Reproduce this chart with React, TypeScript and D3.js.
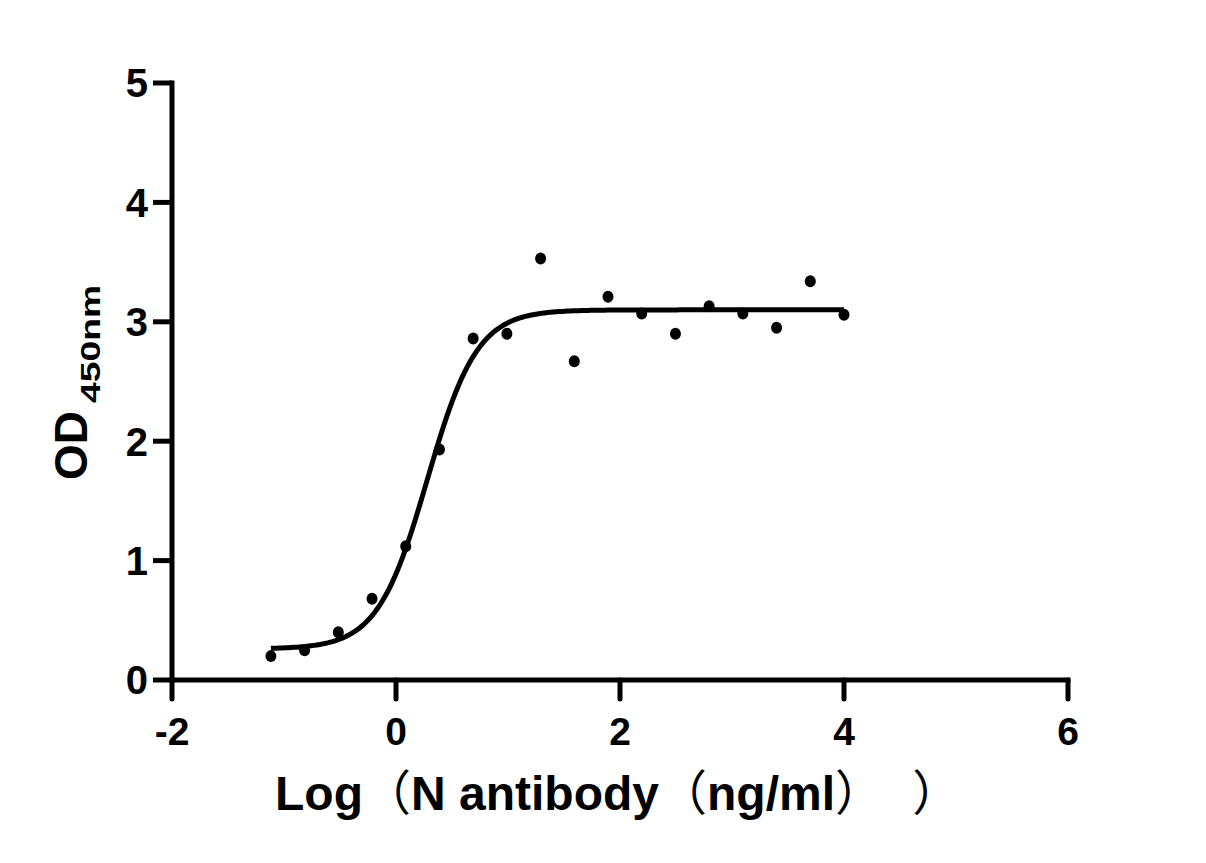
import React from 'react';
import * as d3 from 'd3';

// log10 concentration (ng/ml) and measured OD450
const logConc = [-1.117, -0.816, -0.515, -0.214, 0.087, 0.388, 0.689, 0.99, 1.291, 1.592, 1.893, 2.194, 2.495, 2.796, 3.097, 3.398, 3.699, 4.0];
const odValues = [0.2, 0.25, 0.4, 0.68, 1.12, 1.93, 2.86, 2.9, 3.53, 2.67, 3.21, 3.07, 2.9, 3.13, 3.07, 2.95, 3.34, 3.06];

const xTicks = [-2, 0, 2, 4, 6];
const yTicks = [0, 1, 2, 3, 4, 5];

// 4PL fit
const fitBottom = 0.26;
const fitTop = 3.1;
const fitLogEC50 = 0.28;
const fitHill = 1.95;

const W = 1206;
const H = 863;
const FONT = "'Liberation Sans', Arial, 'Noto Sans CJK SC', sans-serif";

const fourPL = (x: number) => fitBottom + (fitTop - fitBottom) / (1 + Math.pow(10, (fitLogEC50 - x) * fitHill));

export default function App() {
  const x = d3.scaleLinear().domain([-2, 6]).range([172, 1068]);
  const y = d3.scaleLinear().domain([0, 5]).range([680, 83]);

  const xs = d3.range(200).map(i => logConc[0] + (i / 199) * (logConc[logConc.length - 1] - logConc[0]));
  const line = d3.line<number>().x(d => x(d)).y(d => y(fourPL(d)));

  const x0 = x(-2);
  const y0 = y(0);

  return (
    <svg width={W} height={H} style={{ position: 'absolute', left: 0, top: 0, background: '#fff' }} fontFamily={FONT}>
      <rect width={W} height={H} fill="#fff" />
      {/* y axis */}
      <line x1={x0} x2={x0} y1={y(5)} y2={y0} stroke="#000" strokeWidth={5} strokeLinecap="square" />
      {yTicks.map(t => (
        <g key={'y' + t}>
          <line x1={x0 - 19} x2={x0} y1={y(t)} y2={y(t)} stroke="#000" strokeWidth={5} />
          <text x={148} y={y(t)} dy="0.36em" textAnchor="end" fontSize={40} fontWeight="bold">{t}</text>
        </g>
      ))}
      {/* x axis */}
      <line x1={x0} x2={x(6)} y1={y0} y2={y0} stroke="#000" strokeWidth={5} strokeLinecap="square" />
      {xTicks.map(t => (
        <g key={'x' + t}>
          <line x1={x(t)} x2={x(t)} y1={y0} y2={y0 + 19} stroke="#000" strokeWidth={5} strokeLinecap="round" />
          <text x={x(t)} y={745} textAnchor="middle" fontSize={39} fontWeight="bold">{t < 0 ? '-' + Math.abs(t) : t}</text>
        </g>
      ))}
      {/* fitted curve */}
      <path d={line(xs) || ''} fill="none" stroke="#000" strokeWidth={5} />
      {/* points */}
      {logConc.map((c, i) => (
        <ellipse key={i} cx={x(c)} cy={y(odValues[i])} rx={5.5} ry={6} fill="#000" />
      ))}
      {/* axis titles */}
      <text x={275} y={810} fontSize={48} fontWeight="bold">
        Log<tspan fontWeight="normal">（</tspan>N antibody<tspan fontWeight="normal">（</tspan>ng/ml<tspan fontWeight="normal">）</tspan> <tspan fontWeight="normal" dx={16}>）</tspan>
      </text>
      <text transform="translate(87,480) rotate(-90)" fontSize={46} fontWeight="bold">OD</text>
      <text transform="translate(100,403) rotate(-90)" fontSize={28} fontWeight="bold" textLength={118} lengthAdjust="spacingAndGlyphs">450nm</text>
    </svg>
  );
}
